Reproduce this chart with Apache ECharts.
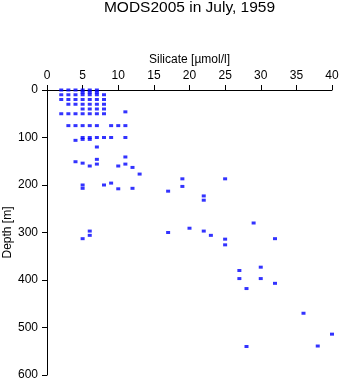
<!DOCTYPE html>
<html>
<head>
<meta charset="utf-8">
<script src="https://cdn.jsdelivr.net/npm/echarts@6/dist/echarts.min.js"></script>
<style>
  html, body { margin: 0; padding: 0; background: #fff; }
  #chart { width: 341px; height: 384px; }
</style>
</head>
<body>
<div id="chart"></div>
<script>
// Silicate profile samples: paired silicate [µmol/l] and depth [m]
const silicate = [
  2, 3, 4, 5, 6, 7,
  5, 6, 7,
  2, 3, 4, 5, 6, 7, 8,
  2, 3, 4, 5, 6, 7, 8,
  3, 4, 5, 6, 7, 8,
  5, 6, 7, 8,
  11,
  2, 3, 4, 5, 6, 7, 8,
  3, 4, 5, 6, 7, 9, 10, 11,
  5, 6, 7, 8, 9, 11, 5, 6, 4,
  7, 11, 7, 4, 5, 7, 11, 6, 10, 12, 13,
  19, 25, 9, 5, 8, 19, 5, 12, 10, 17, 22, 22,
  29, 20, 6, 22, 17, 6, 23, 5, 32, 25, 25,
  30, 27, 27, 30, 32, 28, 36, 40, 38, 28
];
const depth = [
  0, 0, 0, 0, 0, 0,
  5, 5, 5,
  10, 10, 10, 10, 10, 10, 10,
  20, 20, 20, 20, 20, 20, 20,
  30, 30, 30, 30, 30, 30,
  40, 40, 40, 40,
  46,
  50, 50, 50, 50, 50, 50, 50,
  75, 75, 75, 75, 75, 75, 75, 75,
  100, 100, 100, 100, 100, 100, 104, 104, 106,
  120, 141, 146, 151, 154, 156, 156, 160, 160, 163, 177,
  187, 187, 196, 200, 200, 203, 207, 207, 208, 213, 223, 232,
  280, 291, 297, 297, 300, 306, 306, 313, 313, 314, 326,
  373, 380, 397, 397, 407, 418, 470, 514, 539, 540
];

const xTicks = { min: 0, max: 40, step: 5 };
const yTicks = { min: 0, max: 600, step: 100 };

const points = silicate.map((s, i) => [s, depth[i]]);
const font = 'Liberation Sans, Arial, Helvetica, sans-serif';

const chart = echarts.init(document.getElementById('chart'), null, { renderer: 'canvas' });
chart.setOption({
  animation: false,
  backgroundColor: '#ffffff',
  title: {
    text: 'MODS2005 in July, 1959',
    left: 189.5,
    textAlign: 'center',
    top: 0,
    padding: 0,
    textStyle: { fontFamily: font, fontSize: 15.5, fontWeight: 'normal', color: '#000' }
  },
  grid: {
    left: 47, top: 90, width: 285, height: 285,
    containLabel: false,
    outerBoundsMode: 'none'
  },
  xAxis: {
    type: 'value',
    position: 'top',
    min: xTicks.min, max: xTicks.max, interval: xTicks.step,
    name: 'Silicate [µmol/l]',
    nameLocation: 'middle',
    nameGap: 24,
    nameMoveOverlap: false,
    nameTextStyle: { fontFamily: font, fontSize: 12, color: '#000' },
    axisLine: { show: true, lineStyle: { color: '#000', width: 1 } },
    axisTick: { show: true, length: 5, lineStyle: { color: '#000' } },
    axisLabel: { margin: 8, fontFamily: font, fontSize: 12, color: '#000' },
    splitLine: { show: false }
  },
  yAxis: {
    type: 'value',
    inverse: true,
    min: yTicks.min, max: yTicks.max, interval: yTicks.step,
    name: 'Depth [m]',
    nameLocation: 'middle',
    nameGap: 33,
    nameMoveOverlap: false,
    nameTextStyle: { fontFamily: font, fontSize: 12, color: '#000' },
    axisLine: { show: true, onZero: false, lineStyle: { color: '#000', width: 1 } },
    axisTick: { show: true, length: 5, lineStyle: { color: '#000' } },
    axisLabel: { margin: 9, fontFamily: font, fontSize: 12, color: '#000' },
    splitLine: { show: false }
  },
  series: [{
    type: 'scatter',
    data: points,
    symbol: 'rect',
    symbolSize: [4, 3],
    itemStyle: { color: '#0000ff' }
  }]
});
</script>
</body>
</html>
